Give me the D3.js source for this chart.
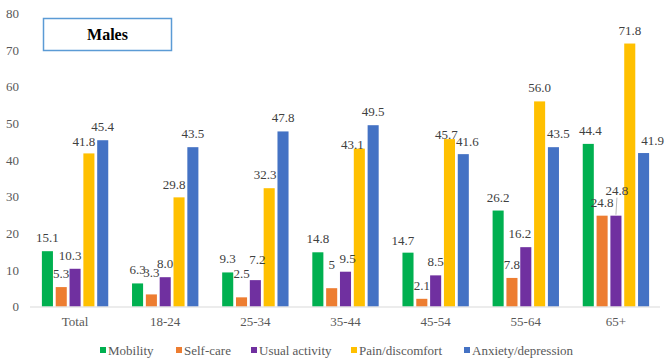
<!DOCTYPE html>
<html>
<head>
<meta charset="utf-8">
<script src="https://cdn.jsdelivr.net/npm/d3@7"></script>
<style>
body { margin: 0; background: #fff; }
svg text { font-family: "Liberation Serif", "Times New Roman", serif; }
</style>
</head>
<body>
<script>
const categories = ['Total', '18-24', '25-34', '35-44', '45-54', '55-64', '65+']
const series = ['Mobility', 'Self-care', 'Usual activity', 'Pain/discomfort', 'Anxiety/depression']
const mobility = [15.1, 6.3, 9.3, 14.8, 14.7, 26.2, 44.4]
const selfCare = [5.3, 3.3, 2.5, 5, 2.1, 7.8, 24.8]
const usualActivity = [10.3, 8.0, 7.2, 9.5, 8.5, 16.2, 24.8]
const pain = [41.8, 29.8, 32.3, 43.1, 45.7, 56.0, 71.8]
const anxiety = [45.4, 43.5, 47.8, 49.5, 41.6, 43.5, 41.9]
const labelText = [
	['15.1', '6.3', '9.3', '14.8', '14.7', '26.2', '44.4'],
	['5.3', '3.3', '2.5', '5', '2.1', '7.8', '24.8'],
	['10.3', '8.0', '7.2', '9.5', '8.5', '16.2', '24.8'],
	['41.8', '29.8', '32.3', '43.1', '45.7', '56.0', '71.8'],
	['45.4', '43.5', '47.8', '49.5', '41.6', '43.5', '41.9']
]
const yTicks = [0, 10, 20, 30, 40, 50, 60, 70, 80]
const colors = ['#00B050', '#ED7D31', '#7030A0', '#FFC000', '#4472C4']

const values = [mobility, selfCare, usualActivity, pain, anxiety]
const serif = '"Liberation Serif", "Times New Roman", serif'

// hand placed labels, like in the original sheet: [dx, dy]
const nudge = {
	'Total|Usual activity': [-5, 0],
	'Total|Pain/discomfort': [-5, 2],
	'18-24|Self-care': [0, -8],
	'18-24|Pain/discomfort': [-5, 1],
	'25-34|Self-care': [0, -10],
	'25-34|Usual activity': [2, -7],
	'25-34|Pain/discomfort': [-4, 0],
	'35-44|Self-care': [0, -10],
	'35-44|Usual activity': [2, 0],
	'35-44|Pain/discomfort': [-7, 9],
	'45-54|Mobility': [-5, 1],
	'45-54|Pain/discomfort': [-3, 9],
	'45-54|Anxiety/depression': [4, 1],
	'55-64|Usual activity': [-6, 0],
	'55-64|Anxiety/depression': [5, 0],
	'65+|Mobility': [2, 0],
	'65+|Usual activity': [1, -12],
	'65+|Anxiety/depression': [9, 1]
}

const width = 669
const height = 364

const svg = d3.select('body')
	.append('svg')
	.attr('width', width)
	.attr('height', height)
	.style('font-family', serif)

const x = d3.scaleBand()
	.domain(categories)
	.range([30, 661])

const xs = d3.scaleBand()
	.domain(series)
	.range([0, x.bandwidth()])
	.paddingInner(0.2)
	.paddingOuter(0.86)

const y = d3.scaleLinear()
	.domain([0, 80])
	.range([306.5, 13.5])

// y axis labels
const yAxis = d3.axisLeft(y)
	.tickValues(yTicks)
	.tickSize(0)
	.tickPadding(11)

svg.append('g')
	.attr('transform', 'translate(30,0)')
	.call(yAxis)
	.attr('font-family', serif)
	.call(g => g.select('.domain').remove())
	.selectAll('text')
	.attr('font-size', 13)
	.attr('fill', '#595959')

const rows = series.map((s, i) => categories.map((c, j) => ({
	cat: c, s: s, v: values[i][j], label: labelText[i][j], color: colors[i]
})))

const layer = svg.selectAll('.layer')
	.data(rows)
	.enter()
	.append('g')
	.attr('class', 'layer')
	.style('fill', d => d[0].color)

layer.selectAll('rect')
	.data(d => d)
	.enter()
	.append('rect')
	.attr('x', d => x(d.cat) + xs(d.s))
	.attr('y', d => y(d.v))
	.attr('width', xs.bandwidth())
	.attr('height', d => y(0) - y(d.v))

// x axis line
svg.append('line')
	.attr('x1', 30)
	.attr('x2', 660)
	.attr('y1', y(0) + 0.5)
	.attr('y2', y(0) + 0.5)
	.attr('stroke', '#d9d9d9')
	.attr('stroke-width', 1)

// category labels
svg.selectAll('.cat')
	.data(categories)
	.enter()
	.append('text')
	.attr('class', 'cat')
	.attr('x', d => x(d) + x.bandwidth() / 2)
	.attr('y', 326)
	.attr('text-anchor', 'middle')
	.attr('font-size', 13)
	.attr('fill', '#595959')
	.text(d => d)

// data labels
const all = rows.flat()
const off = d => nudge[d.cat + '|' + d.s] || [0, 0]

svg.selectAll('.lbl')
	.data(all)
	.enter()
	.append('text')
	.attr('class', 'lbl')
	.attr('x', d => x(d.cat) + xs(d.s) + xs.bandwidth() / 2 + off(d)[0])
	.attr('y', d => y(d.v) - 9 + off(d)[1])
	.attr('text-anchor', 'middle')
	.attr('font-size', 13)
	.attr('fill', '#404040')
	.text(d => d.label)

// leader line for the moved 65+ label
const lead = all.filter(d => d.cat === '65+' && d.s === 'Usual activity')
svg.selectAll('.lead')
	.data(lead)
	.enter()
	.append('line')
	.attr('x1', d => x(d.cat) + xs(d.s) + xs.bandwidth() / 2 + 1)
	.attr('y1', d => y(d.v) - 18)
	.attr('x2', d => x(d.cat) + xs(d.s) + xs.bandwidth() / 2)
	.attr('y2', d => y(d.v) - 1)
	.attr('stroke', '#a6a6a6')
	.attr('stroke-width', 0.8)

// title box
svg.append('rect')
	.attr('x', 43.5)
	.attr('y', 18.5)
	.attr('width', 128)
	.attr('height', 32)
	.attr('fill', '#fff')
	.attr('stroke', '#5B9BD5')
	.attr('stroke-width', 1.5)

svg.append('text')
	.attr('x', 107.5)
	.attr('y', 40)
	.attr('text-anchor', 'middle')
	.attr('font-size', 16)
	.attr('font-weight', 'bold')
	.attr('fill', '#000')
	.text('Males')

// legend
const legendX = [100, 176, 251, 351, 464]
const legend = svg.selectAll('.leg')
	.data(series)
	.enter()
	.append('g')
	.attr('class', 'leg')
	.attr('transform', (d, i) => `translate(${legendX[i]},350)`)

legend.append('rect')
	.attr('x', 0)
	.attr('y', -3)
	.attr('width', 6)
	.attr('height', 6)
	.attr('fill', (d, i) => colors[i])

legend.append('text')
	.attr('x', 8)
	.attr('y', 4.5)
	.attr('font-size', 13)
	.attr('fill', '#595959')
	.text(d => d)
</script>
</body>
</html>
